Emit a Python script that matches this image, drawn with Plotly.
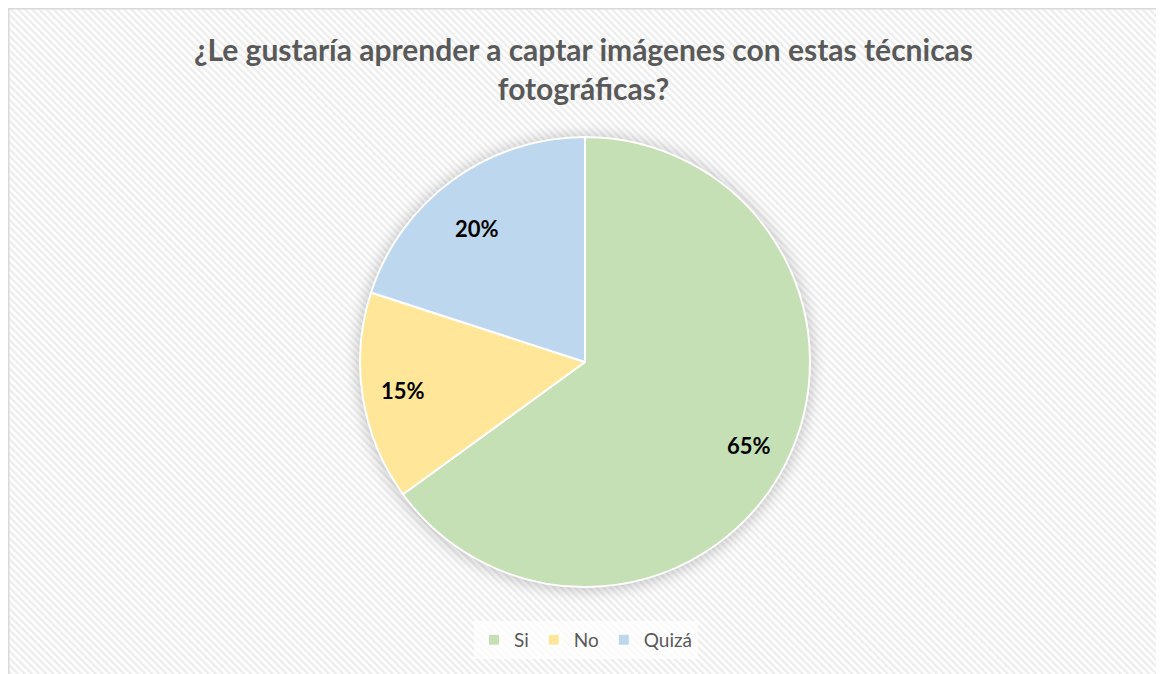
import base64, math
import plotly.graph_objects as go

labels = ["Si", "No", "Quizá"]
values = [65, 15, 20]
colors = ["#C5E0B4", "#FFE699", "#BDD7EE"]
title_text = "¿Le gustaría aprender a captar imágenes con estas técnicas<br>fotográficas?"

# page body has an 8px margin, so figure coords = screen coords - 8
OFF = 8
W, H = 1154, 674 - OFF
cx, cy, R = 585 - OFF, 362 - OFF, 225

svg = f'''<svg xmlns="http://www.w3.org/2000/svg" width="{W}" height="{H}" viewBox="0 0 {W} {H}">
<defs>
<pattern id="p" width="5" height="5" patternUnits="userSpaceOnUse" patternTransform="rotate(-45)">
<rect width="2.4" height="5" fill="#EDEDED"/></pattern>
<filter id="b" x="-30%" y="-30%" width="160%" height="160%"><feGaussianBlur stdDeviation="7"/></filter>
</defs>
<rect width="{W}" height="{H}" fill="#FFFFFF"/>
<rect x="0" y="0" width="{W}" height="{H + 10}" fill="url(#p)"/>
<rect x="0.75" y="0.75" width="{W - 1.5}" height="{H + 10}" fill="none" stroke="#D9D9D9" stroke-width="1.5"/>
<circle cx="{cx}" cy="{cy + 1}" r="{R + 3}" fill="#000000" fill-opacity="0.2" filter="url(#b)"/>
</svg>'''
src = "data:image/svg+xml;base64," + base64.b64encode(svg.encode()).decode()

dx0, dx1 = (cx - R) / W, (cx + R) / W
dy0, dy1 = 1 - (cy + R) / H, 1 - (cy - R) / H

fig = go.Figure(go.Pie(
    labels=labels, values=values, sort=False, direction="clockwise", rotation=0,
    marker=dict(colors=colors, line=dict(color="#FFFFFF", width=2)),
    textinfo="none", hoverinfo="label+percent",
    domain=dict(x=[dx0, dx1], y=[dy0, dy1]),
))

# percentage labels placed along each slice's bisector
total = sum(values)
ann = []
cum = 0
for v in values:
    mid = (cum + v / 2) / total * 2 * math.pi
    cum += v
    r = 0.82 * R
    px = cx + r * math.sin(mid)
    py = cy - r * math.cos(mid)
    ann.append(dict(x=px / W, y=1 - py / H, xref="paper", yref="paper",
                    text=f"<b>{round(v / total * 100)}%</b>", showarrow=False,
                    font=dict(family="Lato, Open Sans, sans-serif", size=22, color="#000000")))

# title as a centered annotation
ann.append(dict(x=(583 - OFF) / W, y=1 - (69 - OFF) / H, xref="paper", yref="paper",
                xanchor="center", yanchor="middle", showarrow=False,
                text=f"<b>{title_text}</b>",
                font=dict(family="Lato, Open Sans, sans-serif", size=30, color="#595959")))

fig.update_layout(
    width=W, height=H,
    margin=dict(l=0, r=0, t=0, b=0),
    paper_bgcolor="#FFFFFF", plot_bgcolor="rgba(0,0,0,0)",
    images=[dict(source=src, xref="paper", yref="paper", x=0, y=1, sizex=1, sizey=1,
                 xanchor="left", yanchor="top", sizing="stretch", layer="below")],
    legend=dict(orientation="h", x=(586 - OFF) / W, xanchor="center", y=1 - (640 - OFF) / H,
                yanchor="middle",
                font=dict(family="Lato, Open Sans, sans-serif", size=19, color="#595959"),
                bgcolor="rgba(255,255,255,0.7)", itemwidth=30),
    annotations=ann,
    showlegend=True,
)
fig.write_html("out.html")
